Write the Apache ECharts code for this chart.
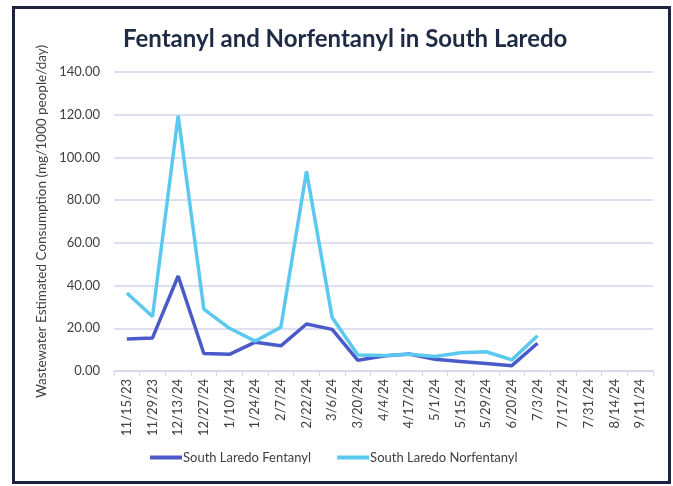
<!DOCTYPE html>
<html>
<head>
<meta charset="utf-8">
<script src="https://cdn.jsdelivr.net/npm/echarts@6/dist/echarts.min.js"></script>
<style>
html,body{margin:0;padding:0;background:#fff;}
#c{width:673px;height:486px;}
</style>
</head>
<body>
<div id="c"></div>
<script>
const categories = ["11/15/23","11/29/23","12/13/24","12/27/24","1/10/24","1/24/24","2/7/24","2/22/24","3/6/24","3/20/24","4/4/24","4/17/24","5/1/24","5/15/24","5/29/24","6/20/24","7/3/24","7/17/24","7/31/24","8/14/24","9/11/24"];
const fentanyl = [15.0, 15.5, 44.5, 8.2, 7.8, 13.5, 11.8, 22.0, 19.5, 5.0, 7.0, 8.0, 5.5, 4.5, 3.5, 2.5, 13.0, null, null, null, null];
const norfentanyl = [36.5, 25.5, 119.5, 29.0, 20.0, 14.0, 20.5, 93.5, 25.0, 7.5, 7.2, 7.8, 6.8, 8.5, 9.0, 5.2, 16.5, null, null, null, null];
const seriesNames = ["South Laredo Fentanyl", "South Laredo Norfentanyl"];
const titleText = "Fentanyl and Norfentanyl in South Laredo";
const yAxisName = "Wastewater Estimated Consumption (mg/1000 people/day)";

const chart = echarts.init(document.getElementById('c'), null, {renderer:'canvas'});
const fontFam = "Lato, 'Open Sans', sans-serif";
chart.setOption({
  backgroundColor: '#fff',
  animation: false,
  graphic: [{
    type: 'rect',
    shape: {x: 13.5, y: 7.5, width: 656, height: 475},
    style: {fill: 'none', stroke: '#1E2140', lineWidth: 3},
    silent: true, z: 100
  }],
  title: {
    text: titleText,
    left: 118,
    top: 22,
    textStyle: {fontFamily: fontFam, fontSize: 24, fontWeight: 'bold', color: '#1F2A44'}
  },
  legend: {
    bottom: 17,
    left: 145,
    itemWidth: 32,
    itemHeight: 4,
    itemGap: 26,
    icon: 'rect',
    textStyle: {fontFamily: fontFam, fontSize: 13, color: '#404040', padding: [0,0,0,-4]},
    data: seriesNames
  },
  grid: {left: 114, right: 20, top: 72, bottom: 115, containLabel: false},
  xAxis: {
    type: 'category',
    data: categories,
    boundaryGap: true,
    axisLine: {lineStyle: {color: '#D3D6EC', width: 1.5}},
    axisTick: {show: true, length: 5, lineStyle: {color: '#D3D6EC'}},
    axisLabel: {rotate: 90, interval: 0, fontFamily: fontFam, fontSize: 13, color: '#404040', margin: 8}
  },
  yAxis: {
    type: 'value',
    min: 0, max: 140, interval: 20,
    name: yAxisName,
    nameLocation: 'middle',
    nameGap: 62,
    nameTextStyle: {fontFamily: fontFam, fontSize: 13.5, color: '#404040'},
    axisLine: {show: false},
    axisTick: {show: false},
    axisLabel: {formatter: v => v.toFixed(2), fontFamily: fontFam, fontSize: 13, color: '#404040', margin: 14},
    splitLine: {lineStyle: {color: '#D3D6EC', width: 1.5}}
  },
  series: [
    {name: seriesNames[0], type: 'line', data: fentanyl, showSymbol: false, symbol: 'none',
     lineStyle: {color: '#4A5AC8', width: 3.5}, itemStyle: {color: '#4A5AC8'}, z: 2},
    {name: seriesNames[1], type: 'line', data: norfentanyl, showSymbol: false, symbol: 'none',
     lineStyle: {color: '#5BC8EF', width: 3.5}, itemStyle: {color: '#5BC8EF'}, z: 3}
  ]
});
</script>
</body>
</html>
